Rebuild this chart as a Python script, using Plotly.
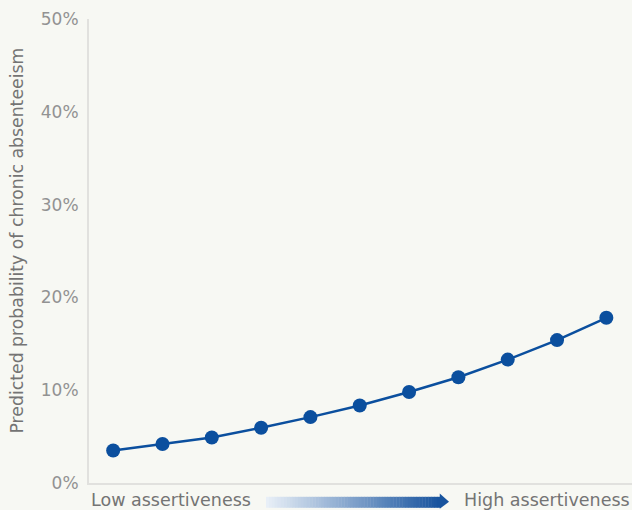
import plotly.graph_objects as go

# Predicted probability (%) across 11 assertiveness levels, low -> high
levels = list(range(11))
predicted_pct = [3.5, 4.2, 4.9, 5.95, 7.1, 8.35, 9.8, 11.4, 13.3, 15.4, 17.8]

y_ticks = [0, 10, 20, 30, 40, 50]
y_tick_labels = ["0%", "10%", "20%", "30%", "40%", "50%"]

BG = "#f7f8f3"
BLUE = "#0b4f9e"
AXIS_GRAY = "#e1e1de"
TICK_GRAY = "#929292"
TEXT_GRAY = "#747474"
FONT = "DejaVu Sans"

fig = go.Figure()
fig.add_trace(go.Scatter(
    x=levels, y=predicted_pct, mode="lines+markers",
    line=dict(color=BLUE, width=2.5),
    marker=dict(color=BLUE, size=14),
    hoverinfo="skip", showlegend=False,
))

# Gradient arrow between the two end labels
x_start, x_head, x_tip = 0.326, 0.646, 0.663
n_steps = 60
c0 = (232, 239, 247)
c1 = (24, 84, 158)
for i in range(n_steps):
    t = i / (n_steps - 1)
    col = "rgb({},{},{})".format(*[round(a + (b - a) * t) for a, b in zip(c0, c1)])
    xa = x_start + (x_head - x_start) * i / n_steps
    xb = x_start + (x_head - x_start) * (i + 1) / n_steps + 0.0008
    fig.add_shape(type="rect", xref="paper", yref="paper", ysizemode="pixel",
                  yanchor=0, x0=xa, x1=xb, y0=-13.8, y1=-24.8,
                  fillcolor=col, line_width=0, layer="above")
fig.add_shape(type="path", xref="paper", yref="paper",
              path="M {0} -0.0226 L {1} -0.0405 L {0} -0.0555 Z".format(x_head, x_tip),
              fillcolor="rgb(24,84,158)", line_width=0, layer="above")

fig.add_annotation(text="Low assertiveness", xref="paper", yref="paper",
                   x=0, y=-0.036, xanchor="left", yanchor="middle", showarrow=False,
                   font=dict(family=FONT, size=17.5, color=TEXT_GRAY))
fig.add_annotation(text="High assertiveness", xref="paper", yref="paper",
                   x=1, y=-0.036, xanchor="right", yanchor="middle", showarrow=False,
                   font=dict(family=FONT, size=17.5, color=TEXT_GRAY))

# Vertical axis title
fig.add_annotation(text="Predicted probability of chronic absenteeism",
                   xref="paper", yref="paper", x=-0.1326, y=0.5226,
                   xanchor="center", yanchor="middle", textangle=-90,
                   showarrow=False,
                   font=dict(family=FONT, size=17.3, color=TEXT_GRAY))

fig.update_layout(
    width=632, height=510,
    margin=dict(l=89, r=0, t=19, b=27),
    paper_bgcolor=BG, plot_bgcolor=BG,
    font=dict(family=FONT),
    xaxis=dict(range=[-0.49, 10.52], showgrid=False, zeroline=False,
               showticklabels=False, ticks="", showline=True,
               linecolor=AXIS_GRAY, linewidth=2),
    yaxis=dict(range=[0, 50], tickvals=y_ticks, ticktext=y_tick_labels,
               showgrid=False, zeroline=False, showline=True,
               linecolor=AXIS_GRAY, linewidth=2, ticks="",
               ticklabelstandoff=5,
               tickfont=dict(family=FONT, size=17, color=TICK_GRAY)),
)

fig.write_html("out.html")
